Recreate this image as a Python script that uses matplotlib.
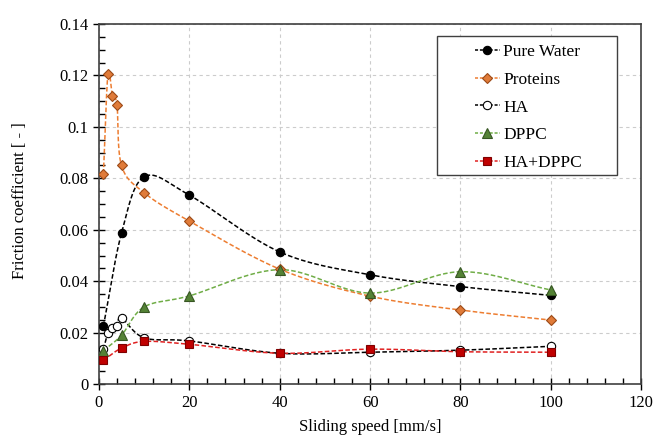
import numpy as np
import matplotlib.pyplot as plt
from matplotlib.patches import Rectangle
from matplotlib.ticker import MultipleLocator

plt.rcParams['font.family'] = ['Liberation Serif', 'DejaVu Serif']

# sliding speed [mm/s]
speed_water = [1, 5, 10, 20, 40, 60, 80, 100]
water = [0.0226, 0.0587, 0.0806, 0.0735, 0.0514, 0.0425, 0.0379, 0.0345]

speed_prot = [1, 2, 3, 4, 5, 10, 20, 40, 60, 80, 100]
proteins = [0.0817, 0.1206, 0.112, 0.1085, 0.085, 0.0744, 0.0634, 0.0447, 0.0342, 0.0288, 0.0249]

speed_ha = [1, 2, 3, 4, 5, 10, 20, 40, 60, 80, 100]
ha = [0.0135, 0.0199, 0.0217, 0.0226, 0.0257, 0.018, 0.0168, 0.012, 0.0124, 0.0132, 0.0147]

speed_dppc = [1, 5, 10, 20, 40, 60, 80, 100]
dppc = [0.013, 0.019, 0.030, 0.0343, 0.0445, 0.0354, 0.0437, 0.0366]

speed_mix = [1, 5, 10, 20, 40, 60, 80, 100]
mix = [0.0093, 0.014, 0.0166, 0.0155, 0.012, 0.0136, 0.0126, 0.0124]


def smooth(x, y, n=30):
    # Catmull-Rom style curve through the points (like Excel smoothed lines)
    x = np.asarray(x, float)
    y = np.asarray(y, float)
    px = np.concatenate([[2 * x[0] - x[1]], x, [2 * x[-1] - x[-2]]])
    py = np.concatenate([[2 * y[0] - y[1]], y, [2 * y[-1] - y[-2]]])
    xs, ys = [], []
    t = np.linspace(0, 1, n)
    for i in range(1, len(px) - 2):
        p0, p1, p2, p3 = px[i - 1], px[i], px[i + 1], px[i + 2]
        q0, q1, q2, q3 = py[i - 1], py[i], py[i + 1], py[i + 2]
        s = 1 / 6
        bx = [p1, p1 + (p2 - p0) * s, p2 - (p3 - p1) * s, p2]
        by = [q1, q1 + (q2 - q0) * s, q2 - (q3 - q1) * s, q2]
        b = [(1 - t) ** 3, 3 * (1 - t) ** 2 * t, 3 * (1 - t) * t ** 2, t ** 3]
        xs.append(sum(c * w for c, w in zip(bx, b)))
        ys.append(sum(c * w for c, w in zip(by, b)))
    return np.concatenate(xs), np.concatenate(ys)


fig = plt.figure(figsize=(6.55, 4.37), dpi=100)
ax = fig.add_axes([0.151, 0.121, 0.828, 0.824])

series = [
    (speed_water, water, 'Pure Water', 'o', 6, 'black', 'black', 'black'),
    (speed_prot, proteins, 'Proteins', 'D', 5.2, '#ED7D31', '#E07B39', '#9C4A17'),
    (speed_ha, ha, 'HA', 'o', 6, 'black', 'white', 'black'),
    (speed_dppc, dppc, 'DPPC', '^', 6.5, '#70AD47', '#548235', '#375623'),
    (speed_mix, mix, 'HA+DPPC', 's', 5.5, '#E02020', '#C00000', '#7F0000'),
]

dash = (0, (3, 1.5))
for xs, ys, name, mk, ms, lc, fc, ec in series:
    sx, sy = smooth(xs, ys)
    ax.plot(sx, sy, color=lc, lw=1.1, ls=dash, zorder=2)
    ax.plot(xs, ys, ls='none', marker=mk, ms=ms, mfc=fc, mec=ec, mew=0.8, zorder=3)
    ax.plot([], [], color=lc, lw=1.1, ls=(0, (2, 1.2)), marker=mk, ms=ms, mfc=fc, mec=ec,
            mew=0.8, label=name)

ax.set_xlim(0, 120)
ax.set_ylim(0, 0.14)
ax.xaxis.set_major_locator(MultipleLocator(20))
ax.xaxis.set_minor_locator(MultipleLocator(4))
ax.yaxis.set_minor_locator(MultipleLocator(0.005))
ax.set_yticks(np.arange(0, 0.141, 0.02))
ax.set_yticklabels(['0', '0.02', '0.04', '0.06', '0.08', '0.1', '0.12', '0.14'])

ax.grid(True, which='major', color='#CCCCCC', ls=(0, (3, 3)), lw=0.8)
ax.tick_params(which='major', direction='inout', length=8, width=1, labelsize=12)
ax.tick_params(which='minor', direction='in', length=4, width=1)
for sp in ax.spines.values():
    sp.set_color('#404040')
    sp.set_linewidth(1.2)

ax.set_xlabel('Sliding speed [mm/s]', fontsize=12)
ax.set_ylabel('Friction coefficient [ - ]', fontsize=12)
ax.xaxis.set_label_coords(0.5, -0.097)
ax.yaxis.set_label_coords(-0.131, 0.51)

# legend box drawn separately to get the wide left padding
ax.add_patch(Rectangle((0.6236, 0.5806), 0.3321, 0.3861, transform=ax.transAxes,
                       facecolor='white', edgecolor='#404040', lw=1.0, zorder=4))
leg = ax.legend(loc='upper left', bbox_to_anchor=(0.694, 0.944), fontsize=12.5,
                frameon=False, handlelength=1.4, handletextpad=0.2,
                labelspacing=0.66, borderpad=0, borderaxespad=0)
leg.set_zorder(5)

fig.savefig('out.png', dpi=100)
